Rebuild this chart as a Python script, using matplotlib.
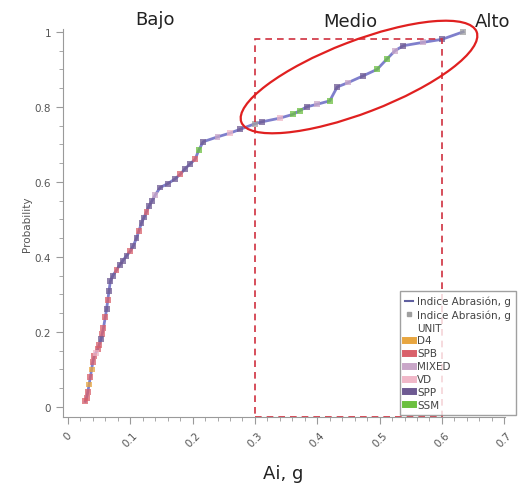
import matplotlib
matplotlib.use("Agg")
import matplotlib.pyplot as plt
from matplotlib.patches import Ellipse, Rectangle
from matplotlib.lines import Line2D
from matplotlib.ticker import MultipleLocator

# ---- data ----
ai_values = [0.028, 0.030, 0.032, 0.034, 0.036, 0.038, 0.040, 0.042, 0.045, 0.048,
             0.050, 0.053, 0.055, 0.057, 0.060, 0.062, 0.064, 0.066, 0.068, 0.072,
             0.078, 0.083, 0.088, 0.094, 0.100, 0.105, 0.110, 0.114, 0.118, 0.122,
             0.126, 0.130, 0.135, 0.140, 0.148, 0.160, 0.172, 0.180, 0.188, 0.196,
             0.204, 0.210, 0.217, 0.240, 0.260, 0.276, 0.300, 0.311, 0.340, 0.361,
             0.372, 0.383, 0.400, 0.420, 0.432, 0.450, 0.474, 0.496, 0.512, 0.525,
             0.538, 0.570, 0.600, 0.634]
probability = [0.015, 0.025, 0.040, 0.060, 0.080, 0.100, 0.120, 0.135, 0.145, 0.155,
               0.165, 0.180, 0.195, 0.210, 0.240, 0.260, 0.285, 0.310, 0.335, 0.350,
               0.365, 0.378, 0.390, 0.403, 0.415, 0.430, 0.450, 0.470, 0.490, 0.505,
               0.520, 0.535, 0.550, 0.565, 0.585, 0.595, 0.608, 0.620, 0.635, 0.648,
               0.660, 0.685, 0.707, 0.720, 0.730, 0.740, 0.755, 0.760, 0.770, 0.780,
               0.790, 0.800, 0.807, 0.816, 0.853, 0.865, 0.883, 0.900, 0.928, 0.950,
               0.963, 0.972, 0.980, 1.000]
units = ["SPB", "SPB", "SPB", "D4", "SPB", "D4", "SPB", "SPB", "VD", "SPB",
         "SPB", "SPP", "SPB", "SPB", "SPB", "SPP", "SPB", "SPP", "SPP", "SPP",
         "SPB", "SPP", "SPP", "SPP", "SPB", "SPP", "SPP", "SPB", "SPP", "SPP",
         "SPB", "SPP", "SPP", "MIXED", "SPP", "SPP", "SPP", "SPB", "SPP", "SPP",
         "SPB", "SSM", "SPP", "MIXED", "VD", "SPP", "GREY", "SPP", "VD", "SSM",
         "SSM", "SPP", "MIXED", "SSM", "SPP", "MIXED", "SPP", "SSM", "SSM", "MIXED",
         "SPP", "MIXED", "SPP", "GREY"]
unit_names = ["D4", "SPB", "MIXED", "VD", "SPP", "SSM"]
unit_colors = {"D4": "#e8a640", "SPB": "#d9606a", "MIXED": "#c9a6c8", "VD": "#f0b8c8",
               "SPP": "#6e5a92", "SSM": "#6cc040", "GREY": "#a0a0a0"}
zone_labels = ["Bajo", "Medio", "Alto"]

fig = plt.figure(figsize=(5.2, 4.89), dpi=100)
ax = fig.add_axes([0.121, 0.145, 0.850, 0.794])

ax.plot(ai_values, probability, color="#7f7fcc", lw=2.0, zorder=2)
for u in unit_colors:
    xs = [x for x, uu in zip(ai_values, units) if uu == u]
    ys = [y for y, uu in zip(probability, units) if uu == u]
    ax.scatter(xs, ys, s=18, marker="s", color=unit_colors[u], alpha=0.75,
               edgecolors="none", zorder=3)

ax.set_xlim(-0.008, 0.701)
ax.set_ylim(-0.027, 1.008)
ax.xaxis.set_major_locator(MultipleLocator(0.1))
ax.xaxis.set_minor_locator(MultipleLocator(0.02))
ax.yaxis.set_major_locator(MultipleLocator(0.2))
ax.yaxis.set_minor_locator(MultipleLocator(0.05))
ax.xaxis.set_major_formatter(plt.FuncFormatter(lambda v, p: f"{v:g}"))
ax.yaxis.set_major_formatter(plt.FuncFormatter(lambda v, p: f"{v:g}"))
for s in ["top", "right"]:
    ax.spines[s].set_visible(False)
for s in ["left", "bottom"]:
    ax.spines[s].set_color("#9a9a9a")
ax.tick_params(axis="both", which="major", colors="#9a9a9a", labelcolor="#555555",
               labelsize=7.5, length=5, direction="out")
ax.tick_params(axis="both", which="minor", colors="#9a9a9a", length=3, direction="out")
ax.tick_params(axis="x", pad=4)
for lab in ax.get_xticklabels():
    lab.set_rotation(45)
    lab.set_ha("center")
    lab.set_va("top")
ax.set_ylabel("Probability", fontsize=7.5, color="#555555", labelpad=2)
ax.set_xlabel("Ai, g", fontsize=13, color="#222222")
ax.xaxis.set_label_coords(0.498, -0.122)

# dashed zone rectangle
ax.add_patch(Rectangle((0.3, -0.027), 0.3, 0.98 + 0.027, fill=False,
                       edgecolor="#d03040", lw=1.2, ls=(0, (4, 3)), zorder=4))

# legend
handles = [Line2D([], [], color="#6060a0", lw=1.5),
           Line2D([], [], color="#a0a0a0", marker="s", ls="none", ms=3),
           Line2D([], [], color="none")]
labels = ["Indice Abrasión, g", "Indice Abrasión, g", "UNIT"]
for u in unit_names:
    handles.append(Line2D([], [], color=unit_colors[u], lw=5))
    labels.append(u)
leg = fig.legend(handles, labels, loc="upper left", bbox_to_anchor=(400 / 520, 1 - 292 / 489),
                 fontsize=7.5, frameon=True, fancybox=False, handlelength=0.8,
                 handletextpad=0.4, labelspacing=0.28, borderpad=0.45, borderaxespad=0)
leg.get_frame().set_edgecolor("#888888")
leg.get_frame().set_linewidth(1.0)
for t in leg.get_texts():
    t.set_color("#444444")

# overlay in pixel coordinates for annotations
ov = fig.add_axes([0, 0, 1, 1], facecolor="none")
ov.set_xlim(0, 520)
ov.set_ylim(489, 0)
ov.axis("off")
ov.add_patch(Ellipse((359, 78), 252, 72, angle=-21, fill=False, edgecolor="#e02020", lw=1.6))
for lab, (px, py) in zip(zone_labels, [(155, 20), (350, 22), (493, 22)]):
    ov.text(px, py, lab, fontsize=13, ha="center", va="center", color="#222222")

fig.savefig("out.png", dpi=100)
